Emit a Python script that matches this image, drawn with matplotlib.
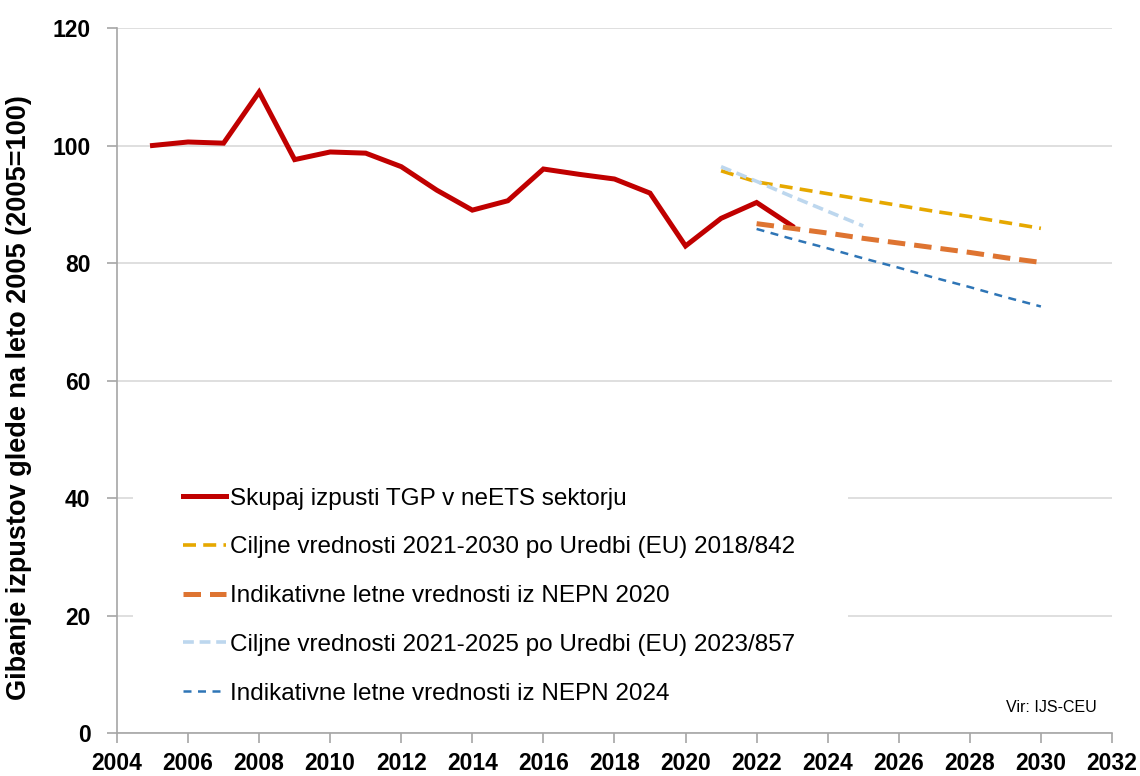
import matplotlib.pyplot as plt
from matplotlib.patches import Rectangle

plt.rcParams['font.family'] = ['Liberation Sans', 'DejaVu Sans']

# measured series (index 2005 = 100)
years_hist = [2005, 2006, 2007, 2008, 2009, 2010, 2011, 2012, 2013, 2014,
              2015, 2016, 2017, 2018, 2019, 2020, 2021, 2022, 2023]
emissions = [100.0, 100.6, 100.4, 109.1, 97.6, 98.9, 98.7, 96.4, 92.4, 89.0,
             90.6, 96.0, 95.1, 94.3, 91.9, 82.9, 87.6, 90.3, 86.3]

years_eu2018 = [2021, 2022, 2023, 2024, 2025, 2026, 2027, 2028, 2029, 2030]
target_eu2018 = [95.7, 93.8, 92.8, 91.8, 90.8, 89.8, 88.8, 87.9, 86.9, 85.9]

years_nepn2020 = [2022, 2023, 2024, 2025, 2026, 2027, 2028, 2029, 2030]
nepn2020 = [86.7, 85.9, 85.1, 84.2, 83.4, 82.6, 81.8, 80.9, 80.1]

years_eu2023 = [2021, 2022, 2023, 2024, 2025]
target_eu2023 = [96.4, 93.9, 91.3, 88.8, 86.3]

years_nepn2024 = [2022, 2023, 2024, 2025, 2026, 2027, 2028, 2029, 2030]
nepn2024 = [85.8, 84.1, 82.5, 80.8, 79.2, 77.5, 75.9, 74.2, 72.6]

fig = plt.figure(figsize=(11.4, 7.76), dpi=100)
ax = fig.add_axes([0.1026, 0.0554, 0.8728, 0.9085])

ax.plot(years_hist, emissions, color='#C00000', lw=3.6,
        solid_joinstyle='miter', label='Skupaj izpusti TGP v neETS sektorju')
ax.plot(years_eu2018, target_eu2018, color='#E6A800', lw=2.6,
        dashes=(3.6, 2.0), label='Ciljne vrednosti 2021-2030 po Uredbi (EU) 2018/842')
ax.plot(years_nepn2020, nepn2020, color='#DE7431', lw=3.6,
        dashes=(3.5, 1.8), label='Indikativne letne vrednosti iz NEPN 2020')
ax.plot(years_eu2023, target_eu2023, color='#BDD7EE', lw=2.6,
        dashes=(3.0, 1.6), label='Ciljne vrednosti 2021-2025 po Uredbi (EU) 2023/857')
ax.plot(years_nepn2024, nepn2024, color='#2E75B6', lw=1.8,
        dashes=(3.2, 2.6), label='Indikativne letne vrednosti iz NEPN 2024')

ax.set_xlim(2004, 2032)
ax.set_ylim(0, 120)
ax.set_xticks(range(2004, 2033, 2))
ax.set_yticks(range(0, 121, 20))
ax.yaxis.grid(True, color='#D9D9D9', lw=1.2)
ax.set_axisbelow(True)
for side in ['top', 'right']:
    ax.spines[side].set_visible(False)
for side in ['left', 'bottom']:
    ax.spines[side].set_color('#A6A6A6')
    ax.spines[side].set_linewidth(1.2)
ax.tick_params(axis='x', direction='out', length=7, color='#A6A6A6', width=1.2,
               labelsize=16.5, pad=7)
ax.tick_params(axis='y', direction='out', length=7, color='#A6A6A6', width=1.2,
               labelsize=16.5, pad=12)
for lbl in ax.get_xticklabels() + ax.get_yticklabels():
    lbl.set_fontweight('bold')

ax.set_ylabel('Gibanje izpustov glede na leto 2005 (2005=100)', fontsize=19.5,
              fontweight='bold')
ax.yaxis.set_label_coords(-0.085, 0.476)

# white legend area that hides the grid lines behind it
ax.add_patch(Rectangle((0.016, 0.016), 0.719, 0.355, transform=ax.transAxes,
                       facecolor='white', edgecolor='none', zorder=1.5))

leg = ax.legend(loc='upper left', bbox_to_anchor=(0.066, 0.348), fontsize=17.5,
                frameon=False, handlelength=1.8, handletextpad=0.15,
                labelspacing=1.1, borderpad=0, borderaxespad=0)

ax.text(0.985, 0.0355, 'Vir: IJS-CEU', transform=ax.transAxes, ha='right',
        va='center', fontsize=11.5)

fig.savefig('out.png', dpi=100)
